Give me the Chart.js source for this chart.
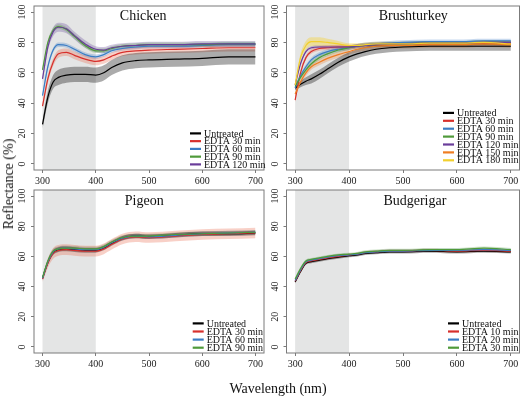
<!DOCTYPE html>
<html>
<head>
<meta charset="utf-8">
<script src="https://cdn.jsdelivr.net/npm/chart.js@4.4.1/dist/chart.umd.min.js"></script>
<style>
  body { margin: 0; background: #fff; }
  #wrap { position: relative; width: 526px; height: 396px; overflow: hidden; font-family: "Liberation Serif", serif; color: #111; }
  .panel { position: absolute; }
  #ylab { position: absolute; left: 9px; top: 184px; transform: translate(-50%, -50%) rotate(-90deg); font-size: 14px; white-space: nowrap; }
  #xlab { position: absolute; left: 278px; top: 389px; transform: translate(-50%, -50%); font-size: 14px; white-space: nowrap; }
</style>
</head>
<body>
<div id="wrap">
  <canvas class="panel" id="chicken" width="258" height="186" style="left:12px;top:0"></canvas>
  <canvas class="panel" id="brushturkey" width="256" height="186" style="left:270px;top:0"></canvas>
  <canvas class="panel" id="pigeon" width="258" height="210" style="left:12px;top:186px"></canvas>
  <canvas class="panel" id="budgerigar" width="256" height="210" style="left:270px;top:186px"></canvas>
  <div id="ylab">Reflectance (%)</div>
  <div id="xlab">Wavelength (nm)</div>
</div>
<script>
// wavelengths the spectra were read at
var wavelength = [300, 310, 320, 330, 345, 360, 380, 400, 415, 430, 450, 475, 500, 550, 600, 650, 700];
var xTicks = [300, 400, 500, 600, 700];
var yTicks = [0, 20, 40, 60, 80, 100];
var uvBand = [300, 400];

// Chicken
var chickenUntreated = [26, 44, 54, 57, 58.5, 59, 59, 58.5, 60, 63.5, 66.5, 68, 68.5, 69, 69.5, 70.5, 70.5];
var chickenUntreatedSe = [3, 4, 4.5, 5, 5, 5, 5, 5, 5, 5, 5, 5, 5, 5, 5, 5, 5];
var chickenEdta30 = [38, 56, 67, 72.5, 73.5, 71.5, 69, 67.5, 68.5, 71, 73.5, 74.5, 75, 75.5, 76, 76.5, 76.5];
var chickenEdta30Se = [2, 2.5, 2.5, 2.5, 2.5, 2.5, 2.5, 2.5, 2.5, 2.5, 2.5, 2.5, 2.5, 2.5, 2.5, 2.5, 2.5];
var chickenEdta60 = [45, 64, 75, 78.5, 78, 75.5, 72, 70.5, 72, 74.5, 76, 77, 77.5, 77.5, 78, 78.5, 78.5];
var chickenEdta60Se = [1.5, 1.5, 1.5, 1.5, 1.5, 1.5, 1.5, 1.5, 1.5, 1.5, 1.5, 1.5, 1.5, 1.5, 1.5, 1.5, 1.5];
var chickenEdta90 = [62, 80, 88, 90.5, 88.5, 84, 78, 74.5, 74.5, 76, 77.5, 78, 78.5, 78.5, 78.5, 79, 79];
var chickenEdta90Se = [1.5, 1.5, 1.5, 1.5, 1.5, 1.5, 1.5, 1.5, 1.5, 1.5, 1.5, 1.5, 1.5, 1.5, 1.5, 1.5, 1.5];
var chickenEdta120 = [56, 77, 87, 90, 89, 84.5, 79, 75.5, 75, 76.5, 77.5, 78, 78.5, 78.5, 79, 79, 79];
var chickenEdta120Se = [2, 2.5, 3, 3, 3, 2.5, 2.5, 2, 2, 2, 2, 2, 2, 2, 2, 2, 2];

// Brushturkey
var turkeyUntreated = [50, 52.5, 54.5, 56, 59, 62.5, 67, 70.5, 72.5, 74, 75.5, 76.5, 77, 77.5, 77.5, 77.5, 77.5];
var turkeyUntreatedSe = [1.5, 2, 2.5, 3, 3, 3, 3, 3, 3, 3, 3, 3, 3, 3, 3, 3, 3];
var turkeyEdta30 = [42, 60, 70, 74, 76, 76.5, 77, 77, 77.5, 78, 78.5, 78.5, 79, 79, 79.5, 79.5, 79.5];
var turkeyEdta30Se = [1.5, 1.5, 1.5, 1.5, 1.5, 1.5, 1.5, 1.5, 1.5, 1.5, 1.5, 1.5, 1.5, 1.5, 1.5, 1.5, 1.5];
var turkeyEdta60 = [50, 58, 64, 68.5, 72, 74, 75.5, 76.5, 77.5, 78.5, 79, 79.5, 80, 80.5, 80.5, 81, 81];
var turkeyEdta60Se = [1.5, 1.5, 1.5, 1.5, 1.5, 1.5, 1.5, 1.5, 1.5, 1.5, 1.5, 1.5, 1.5, 1.5, 1.5, 1.5, 1.5];
var turkeyEdta90 = [51, 57, 62, 66, 70, 72.5, 75, 76.5, 77.5, 78, 78.5, 79, 79, 79.5, 79.5, 80, 80];
var turkeyEdta90Se = [1.5, 1.5, 1.5, 1.5, 1.5, 1.5, 1.5, 1.5, 1.5, 1.5, 1.5, 1.5, 1.5, 1.5, 1.5, 1.5, 1.5];
var turkeyEdta120 = [52, 66, 74, 76.5, 77, 77, 77, 77, 77.5, 78, 78.5, 79, 79, 79.5, 79.5, 80, 80];
var turkeyEdta120Se = [1, 1, 1, 1, 1, 1, 1, 1, 1, 1, 1, 1, 1, 1, 1, 1, 1];
var turkeyEdta150 = [46, 54, 60, 64, 67, 69.5, 72, 74, 75.5, 76.5, 77.5, 78, 78, 78.5, 78.5, 79, 78.5];
var turkeyEdta150Se = [2, 2, 2, 2, 2, 2, 2, 2, 2, 2, 2, 2, 2, 2, 2, 2, 2];
var turkeyEdta180 = [52, 70, 78, 80.5, 80.5, 80, 79, 78, 78, 78.5, 79, 79, 79, 79.5, 79.5, 80, 79];
var turkeyEdta180Se = [1.5, 2.5, 3, 3, 3, 2.5, 2, 1.5, 1.5, 1.5, 1.5, 1.5, 1.5, 1.5, 1.5, 1.5, 1.5];

// Pigeon
var pigeonUntreated = [45.5, 56, 62.5, 64.5, 65, 64.5, 64, 64, 65.5, 68.5, 72, 73.5, 73, 74, 75, 75, 75.5];
var pigeonUntreatedSe = [1.5, 1.5, 1.5, 1.5, 1.5, 1.5, 1.5, 1.5, 1.5, 1.5, 1.5, 1.5, 1.5, 1.5, 1.5, 1.5, 1.5];
var pigeonEdta30 = [45, 55.5, 62, 64, 64.5, 64, 63.5, 63.5, 65, 68, 71.5, 73, 72.5, 73.5, 74.5, 75, 75.5];
var pigeonEdta30Se = [2, 3, 3.5, 3.5, 3.5, 3.5, 3.5, 3.5, 3.5, 3.5, 3.5, 3.5, 3.5, 3.5, 3.5, 3.5, 3.5];
var pigeonEdta60 = [45.5, 56.5, 63, 65, 65.5, 65, 64.5, 64.5, 66, 69, 72, 73.5, 73, 74, 75, 75.5, 76];
var pigeonEdta60Se = [1.5, 1.5, 1.5, 1.5, 1.5, 1.5, 1.5, 1.5, 1.5, 1.5, 1.5, 1.5, 1.5, 1.5, 1.5, 1.5, 1.5];
var pigeonEdta90 = [46, 57, 63.5, 65, 65.5, 65.5, 65, 65, 66.5, 69.5, 72.5, 73.5, 73.5, 74.5, 75, 75.5, 76];
var pigeonEdta90Se = [1.5, 1.5, 1.5, 1.5, 1.5, 1.5, 1.5, 1.5, 1.5, 1.5, 1.5, 1.5, 1.5, 1.5, 1.5, 1.5, 1.5];

// Budgerigar
var budgieUntreated = [43, 50, 55.5, 56.5, 57.5, 58.5, 59.5, 60.5, 61, 62, 62.5, 63, 63, 63.5, 63, 63.5, 63];
var budgieUntreatedSe = [1, 1, 1, 1, 1, 1, 1, 1, 1, 1, 1, 1, 1, 1, 1, 1, 1];
var budgieEdta10 = [43.5, 50.5, 56, 57, 58, 59, 60, 61, 61.5, 62.5, 63, 63.5, 63.5, 64, 63.5, 64, 63.5];
var budgieEdta10Se = [1, 1, 1, 1, 1, 1, 1, 1, 1, 1, 1, 1, 1, 1, 1, 1, 1];
var budgieEdta20 = [44, 51, 56.5, 57.5, 58.5, 59.5, 60.5, 61, 61.5, 62.5, 63, 63.5, 63.5, 64, 64, 64.5, 64];
var budgieEdta20Se = [1, 1, 1, 1, 1, 1, 1, 1, 1, 1, 1, 1, 1, 1, 1, 1, 1];
var budgieEdta30 = [45, 52, 57, 58, 59, 60, 61, 61.5, 62, 63, 63.5, 64, 64, 64.5, 64.5, 65.5, 64.5];
var budgieEdta30Se = [1, 1, 1, 1, 1, 1, 1, 1, 1, 1, 1, 1, 1, 1, 1, 1, 1];

var col = {
    black: ["#000000", "rgba(0,0,0,0.33)"],
    red: ["#d7302c", "rgba(232,110,80,0.32)"],
    blue: ["#3b7dc4", "rgba(70,130,200,0.3)"],
    green: ["#4f9a3a", "rgba(90,160,70,0.3)"],
    purple: ["#6a3d9a", "rgba(110,80,160,0.32)"],
    orange: ["#ef7d22", "rgba(240,130,50,0.3)"],
    yellow: ["#f2d02e", "rgba(245,210,50,0.4)"]
}

Chart.defaults.font.family = '"Liberation Serif", serif';

const panelDeco = {
    id: "panelDeco",
    beforeDatasetsDraw(chart) {
        const { ctx, chartArea: a, scales: { x } } = chart;
        const x0 = x.getPixelForValue(uvBand[0]), x1 = x.getPixelForValue(uvBand[1]);
        ctx.save();
        ctx.fillStyle = "#e4e5e5";
        ctx.fillRect(x0, a.top, x1 - x0, a.bottom - a.top);
        ctx.restore();
    },
    afterDraw(chart, args, o) {
        const { ctx, chartArea: a, scales: { x, y } } = chart;
        ctx.save();
        // box
        ctx.strokeStyle = "#7b7b7b";
        ctx.lineWidth = 1;
        ctx.strokeRect(a.left, a.top, a.right - a.left, a.bottom - a.top);
        // title
        ctx.fillStyle = "#111";
        ctx.font = '14px "Liberation Serif"';
        ctx.textAlign = "center";
        ctx.textBaseline = "middle";
        ctx.fillText(o.title, x.getPixelForValue(o.titleAt[0]), y.getPixelForValue(o.titleAt[1]));
        // legend, bottom right
        ctx.font = '10px "Liberation Serif"';
        ctx.textAlign = "left";
        const n = o.items.length;
        const lx = a.right - o.legendRight;
        o.items.forEach((it, i) => {
            const ly = a.bottom - o.legendBottom - (n - 1 - i) * o.rowGap;
            ctx.strokeStyle = it.color[0];
            ctx.lineWidth = 2.2;
            ctx.beginPath();
            ctx.moveTo(lx, ly);
            ctx.lineTo(lx + 11, ly);
            ctx.stroke();
            ctx.fillText(it.label, lx + 14, ly + 0.5);
        });
        ctx.restore();
    }
}

function buildDatasets(series) {
    const lines = [], bands = [];
    series.forEach((s) => {
        bands.push({ data: wavelength.map((w, i) => ({ x: w, y: s.mean[i] - s.se[i] })), borderWidth: 0, pointRadius: 0, fill: false });
        bands.push({ data: wavelength.map((w, i) => ({ x: w, y: s.mean[i] + s.se[i] })), borderWidth: 0, pointRadius: 0, backgroundColor: s.color[1], fill: "-1" });
        lines.push({ data: wavelength.map((w, i) => ({ x: w, y: s.mean[i] })), borderColor: s.color[0], borderWidth: 1.2, pointRadius: 0, fill: false });
    });
    // later series on top, all lines above the ribbons
    return lines.reverse().concat(bands);
}

function makePanel(id, cfg) {
    const tickFont = { size: 10, family: '"Liberation Serif", serif' };
    new Chart(document.getElementById(id), {
        type: "line",
        data: { datasets: buildDatasets(cfg.series) },
        plugins: [panelDeco],
        options: {
            responsive: false,
            animation: false,
            events: [],
            layout: { padding: { top: cfg.padTop, right: cfg.padRight, bottom: cfg.padBottom, left: 0 } },
            elements: { line: { cubicInterpolationMode: "monotone" }, point: { radius: 0 } },
            plugins: {
                legend: { display: false },
                tooltip: { enabled: false },
                panelDeco: {
                    title: cfg.title,
                    titleAt: cfg.titleAt,
                    items: cfg.series,
                    legendRight: cfg.legendRight,
                    legendBottom: cfg.legendBottom,
                    rowGap: cfg.rowGap
                }
            },
            scales: {
                x: {
                    type: "linear",
                    min: 284,
                    max: 716,
                    afterBuildTicks: (s) => { s.ticks = xTicks.map((v) => ({ value: v })) },
                    afterFit: (s) => { s.height = 16; s.paddingLeft = 0; s.paddingRight = 0 },
                    grid: { drawOnChartArea: false, tickLength: 3, color: "#7b7b7b" },
                    border: { display: false },
                    ticks: { font: tickFont, color: "#222", padding: 2, maxRotation: 0 }
                },
                y: {
                    type: "linear",
                    min: -4,
                    max: 104,
                    afterBuildTicks: (s) => { s.ticks = yTicks.map((v) => ({ value: v })) },
                    afterFit: (s) => { s.width = cfg.yWidth; s.paddingTop = 0; s.paddingBottom = 0 },
                    grid: { drawOnChartArea: false, tickLength: 3, color: "#7b7b7b" },
                    border: { display: false },
                    ticks: { font: tickFont, color: "#222", padding: 1, minRotation: 90, maxRotation: 90, crossAlign: "center" }
                }
            }
        }
    })
}

makePanel("chicken", {
    title: "Chicken", titleAt: [489, 97.3],
    padTop: 6, padRight: 6, padBottom: 0, yWidth: 22,
    legendRight: 74, legendBottom: 5.6, rowGap: 7.75,
    series: [
        { label: "Untreated", mean: chickenUntreated, se: chickenUntreatedSe, color: col.black },
        { label: "EDTA 30 min", mean: chickenEdta30, se: chickenEdta30Se, color: col.red },
        { label: "EDTA 60 min", mean: chickenEdta60, se: chickenEdta60Se, color: col.blue },
        { label: "EDTA 90 min", mean: chickenEdta90, se: chickenEdta90Se, color: col.green },
        { label: "EDTA 120 min", mean: chickenEdta120, se: chickenEdta120Se, color: col.purple }
    ]
})

makePanel("brushturkey", {
    title: "Brushturkey", titleAt: [519, 97.3],
    padTop: 6, padRight: 6.5, padBottom: 0, yWidth: 16.5,
    legendRight: 76.5, legendBottom: 9.7, rowGap: 7.9,
    series: [
        { label: "Untreated", mean: turkeyUntreated, se: turkeyUntreatedSe, color: col.black },
        { label: "EDTA 30 min", mean: turkeyEdta30, se: turkeyEdta30Se, color: col.red },
        { label: "EDTA 60 min", mean: turkeyEdta60, se: turkeyEdta60Se, color: col.blue },
        { label: "EDTA 90 min", mean: turkeyEdta90, se: turkeyEdta90Se, color: col.green },
        { label: "EDTA 120 min", mean: turkeyEdta120, se: turkeyEdta120Se, color: col.purple },
        { label: "EDTA 150 min", mean: turkeyEdta150, se: turkeyEdta150Se, color: col.orange },
        { label: "EDTA 180 min", mean: turkeyEdta180, se: turkeyEdta180Se, color: col.yellow }
    ]
})

makePanel("pigeon", {
    title: "Pigeon", titleAt: [491, 96.7],
    padTop: 4, padRight: 6, padBottom: 27, yWidth: 22,
    legendRight: 71.3, legendBottom: 5.3, rowGap: 8.1,
    series: [
        { label: "Untreated", mean: pigeonUntreated, se: pigeonUntreatedSe, color: col.black },
        { label: "EDTA 30 min", mean: pigeonEdta30, se: pigeonEdta30Se, color: col.red },
        { label: "EDTA 60 min", mean: pigeonEdta60, se: pigeonEdta60Se, color: col.blue },
        { label: "EDTA 90 min", mean: pigeonEdta90, se: pigeonEdta90Se, color: col.green }
    ]
})

makePanel("budgerigar", {
    title: "Budgerigar", titleAt: [522, 96.7],
    padTop: 4, padRight: 6.5, padBottom: 27, yWidth: 16.5,
    legendRight: 71.5, legendBottom: 5.3, rowGap: 8.1,
    series: [
        { label: "Untreated", mean: budgieUntreated, se: budgieUntreatedSe, color: col.black },
        { label: "EDTA 10 min", mean: budgieEdta10, se: budgieEdta10Se, color: col.red },
        { label: "EDTA 20 min", mean: budgieEdta20, se: budgieEdta20Se, color: col.blue },
        { label: "EDTA 30 min", mean: budgieEdta30, se: budgieEdta30Se, color: col.green }
    ]
})
</script>
</body>
</html>
